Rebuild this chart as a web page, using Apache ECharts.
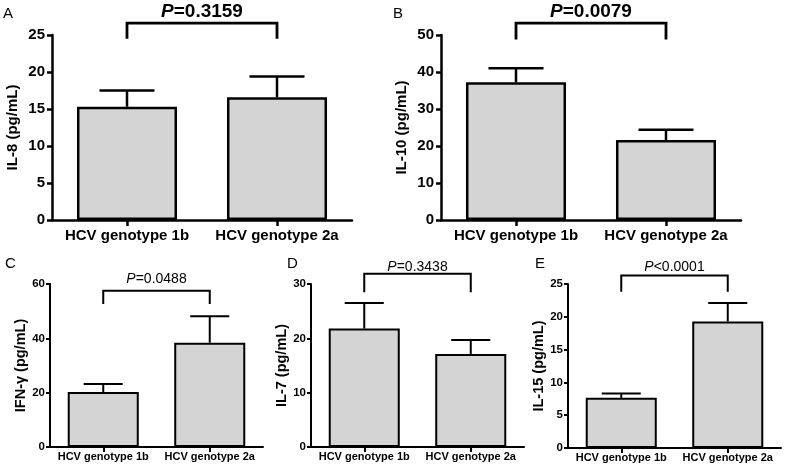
<!DOCTYPE html>
<html>
<head>
<meta charset="utf-8">
<script src="https://cdn.jsdelivr.net/npm/echarts@6/dist/echarts.min.js"></script>
<style>
html,body{margin:0;padding:0;background:#fff;}
#chart{width:785px;height:473px;}
</style>
</head>
<body>
<div id="chart"></div>
<script>
// ---- data ----
const categories = ['HCV genotype 1b', 'HCV genotype 2a'];
const panelLetters = ['A', 'B', 'C', 'D', 'E'];
const yNames = ['IL-8 (pg/mL)', 'IL-10 (pg/mL)', 'IFN-\u03b3 (pg/mL)', 'IL-7 (pg/mL)', 'IL-15 (pg/mL)'];
const yMax = [25, 50, 60, 30, 25];
const yStep = [5, 10, 20, 10, 5];
const meanA = [15.3, 16.6];
const upperA = [17.5, 19.4];
const meanB = [37.2, 21.6];
const upperB = [41.0, 24.4];
const meanC = [20.2, 38.4];
const upperC = [23.2, 48.1];
const meanD = [21.8, 17.1];
const upperD = [26.5, 19.7];
const meanE = [7.65, 19.3];
const upperE = [8.3, 22.1];
const bracketTop = [26.6, 53.2, 57.5, 31.9, 26.3];
const bracketLeg = [24.5, 48.8, 52.6, 28.5, 23.8];
const pSymbol = ['=', '=', '=', '=', '<'];
const pValue = ['0.3159', '0.0079', '0.0488', '0.3438', '0.0001'];

const means = [meanA, meanB, meanC, meanD, meanE];
const uppers = [upperA, upperB, upperC, upperD, upperE];

// ---- layout / style ----
const grids = [
  {left: 52, top: 35, width: 300, height: 185},
  {left: 441, top: 35, width: 300, height: 185},
  {left: 50, top: 284, width: 213, height: 163},
  {left: 311, top: 284, width: 213, height: 163},
  {left: 568, top: 284, width: 213, height: 164}
];
const big = [true, true, false, false, false];
const pOffset = [2, 2, 5, 0, 1];
const nameGaps = [32, 32, 18, 20, 20];
const letterPos = [[3, 13], [393, 13], [5, 263], [287, 263], [535, 263]];
const FONT = '"Liberation Sans", Arial, sans-serif';

const xAxes = [], yAxes = [], series = [];
for (let i = 0; i < 5; i++) {
  const B = big[i];
  const lw = B ? 2.5 : 2;
  xAxes.push({
    type: 'category', gridIndex: i, data: categories,
    axisLine: {show: true, lineStyle: {color: '#000', width: lw}},
    axisTick: {show: true, alignWithLabel: true, interval: 0, length: B ? 6 : 5, lineStyle: {color: '#000', width: lw}},
    axisLabel: {interval: 0, color: '#000', fontFamily: FONT, fontWeight: 'bold', fontSize: B ? 15 : 11, margin: B ? 8 : 4}
  });
  yAxes.push({
    type: 'value', gridIndex: i, min: 0, max: yMax[i], interval: yStep[i],
    name: yNames[i], nameLocation: 'middle', nameGap: nameGaps[i],
    nameTextStyle: {color: '#000', fontFamily: FONT, fontWeight: 'bold', fontSize: B ? 15 : 14.5},
    axisLine: {show: true, lineStyle: {color: '#000', width: lw}},
    axisTick: {show: true, length: B ? 5 : 4, lineStyle: {color: '#000', width: lw}},
    axisLabel: {color: '#000', fontFamily: FONT, fontWeight: 'bold', fontSize: B ? 15 : 11.5, margin: B ? 7 : 5},
    splitLine: {show: false}
  });
  series.push({
    type: 'bar', xAxisIndex: i, yAxisIndex: i, data: means[i], barWidth: '66.7%',
    itemStyle: {color: '#d4d4d4', borderColor: '#000', borderWidth: lw},
    silent: true, animation: false
  });
  series.push({
    type: 'custom', xAxisIndex: i, yAxisIndex: i,
    data: means[i].map((m, k) => [k, m, uppers[i][k]]),
    animation: false, silent: true, z: 3,
    renderItem: (params, api) => {
      const p0 = api.coord([api.value(0), api.value(1)]);
      const p1 = api.coord([api.value(0), api.value(2)]);
      const band = api.size([1, 0])[0];
      const half = band * 0.667 * 0.55 / 2;
      const st = {stroke: '#000', lineWidth: lw};
      return {type: 'group', children: [
        {type: 'line', shape: {x1: p0[0], y1: p0[1], x2: p1[0], y2: p1[1]}, style: st},
        {type: 'line', shape: {x1: p1[0] - half, y1: p1[1], x2: p1[0] + half, y2: p1[1]}, style: st}
      ]};
    }
  });
  series.push({
    type: 'custom', xAxisIndex: i, yAxisIndex: i, clip: false,
    data: [[0, bracketTop[i], bracketLeg[i]]],
    animation: false, silent: true, z: 3,
    renderItem: (params, api) => {
      const a = api.coord([0, api.value(2)]);
      const b = api.coord([0, api.value(1)]);
      const c = api.coord([1, api.value(1)]);
      const d = api.coord([1, api.value(2)]);
      const cx = (b[0] + c[0]) / 2;
      return {type: 'group', children: [
        {type: 'polyline', shape: {points: [a, b, c, d]}, style: {stroke: '#000', lineWidth: B ? 2.8 : 2, fill: null}},
        {type: 'text', x: cx, y: b[1] - pOffset[i], style: {
          text: '{i|P}{n|' + pSymbol[i] + pValue[i] + '}',
          align: 'center', verticalAlign: 'bottom',
          rich: {
            i: {fontFamily: FONT, fontStyle: 'italic', fontWeight: B ? 'bold' : 'normal', fontSize: B ? 19 : 14, fill: '#000'},
            n: {fontFamily: FONT, fontWeight: B ? 'bold' : 'normal', fontSize: B ? 19 : 14, fill: '#000'}
          }
        }}
      ]};
    }
  });
}

const graphic = panelLetters.map((t, i) => ({
  type: 'text', left: letterPos[i][0], top: letterPos[i][1] - 7,
  style: {text: t, fontFamily: FONT, fontSize: 15, fill: '#000'}
}));

const chart = echarts.init(document.getElementById('chart'), null, {renderer: 'canvas'});
chart.setOption({
  animation: false,
  backgroundColor: '#fff',
  grid: grids,
  xAxis: xAxes,
  yAxis: yAxes,
  series: series,
  graphic: graphic
});
</script>
</body>
</html>
